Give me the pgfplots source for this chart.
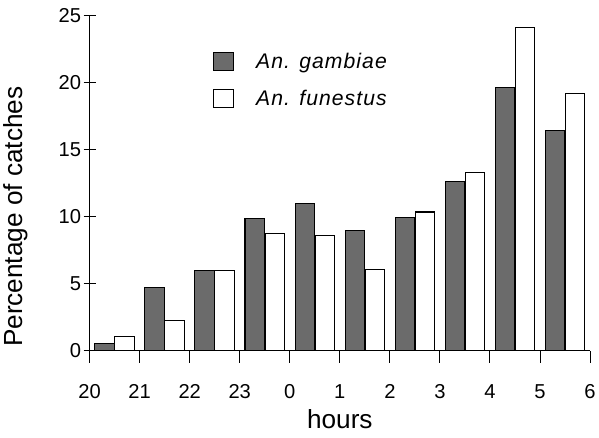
\documentclass[border=0pt]{standalone}
\usepackage{fontspec}
\setmainfont{Liberation Sans}
\newfontfamily\legfont[LetterSpace=5]{Liberation Sans}
\usepackage{pgfplots}
\pgfplotsset{compat=1.18}

\begin{document}
\begin{tikzpicture}
\begin{axis}[
  scale only axis, width=497pt, height=333pt,
  xmin=0, xmax=10, ymin=0, ymax=25,
  axis x line=bottom, axis y line=left,
  axis line style={-, line width=1.3pt},
  xtick={0,...,10}, xticklabels={20,21,22,23,0,1,2,3,4,5,6},
  ytick={0,5,...,25},
  tick align=center, major tick length=12pt,
  tick style={line width=1pt, black},
  /pgf/number format/assume math mode=true,
  tick label style={font=\fontsize{20}{23}\selectfont},
  xticklabel style={yshift=-18pt},
  yticklabel style={xshift=1pt},
  xlabel={hours}, ylabel={Percentage of catches},
  label style={font=\fontsize{26}{30}\selectfont},
  xlabel style={at={(axis description cs:0.5,-0.205)}, anchor=center},
  ylabel style={at={(axis description cs:-0.148,0.40)}, anchor=center},
  ybar, bar width=0.39, bar shift=0pt,
  clip=false,
  legend style={at={(axis description cs:0.24,0.90)}, anchor=north west, draw=none,
    fill=none, font=\legfont\fontsize{21}{25}\selectfont\itshape, row sep=16pt},
  legend cell align=left,
  legend image code/.code={\draw[#1, line width=1pt] (0pt,-9pt) rectangle (20pt,9pt); \path (40pt,0pt);},
]
\addplot[fill=black!58, draw=black, line width=1pt] coordinates {
(0.3,0.55)(1.3,4.75)(2.3,6.0)(3.3,9.9)(4.3,10.95)(5.3,8.95)(6.3,9.95)(7.3,12.6)(8.3,19.6)(9.3,16.4)};
\addlegendentry{An. gambiae}
\addplot[fill=white, draw=black, line width=1pt] coordinates {
(0.7,1.05)(1.7,2.25)(2.7,6.0)(3.7,8.75)(4.7,8.57)(5.7,6.05)(6.7,10.35)(7.7,13.3)(8.7,24.1)(9.7,19.2)};
\addlegendentry{An. funestus}
\end{axis}
\path (current bounding box.south) ++(0,-5pt) (current bounding box.north) ++(0,5pt);
\end{tikzpicture}
\end{document}
